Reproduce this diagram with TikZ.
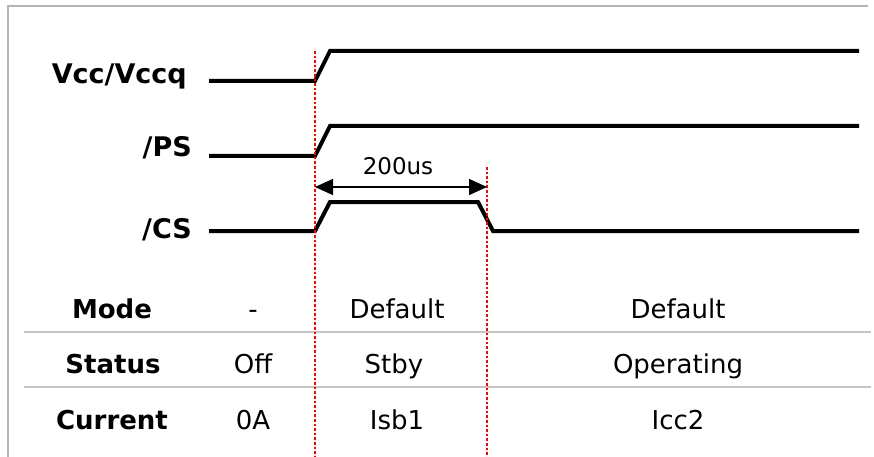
\documentclass[tikz,border=0pt]{standalone}
\usepackage{fontspec}
\setmainfont{DejaVu Sans}
\usetikzlibrary{arrows.meta}
\definecolor{framegrey}{HTML}{B4B4B4}
\definecolor{rulegrey}{HTML}{C4C4C4}
\definecolor{markred}{HTML}{FF0000}
\tikzset{
  sig/.style={line width=4pt, line join=miter, black},
  marker/.style={markred, line width=2.8pt, dash pattern=on 2.6pt off 2pt},
  rowrule/.style={rulegrey, line width=2pt},
  framerule/.style={framegrey, line width=2.4pt},
  siglabel/.style={anchor=base east, inner sep=0pt, font=\fontsize{27}{31}\selectfont\bfseries},
  headcell/.style={anchor=base, inner sep=0pt, font=\fontsize{26}{30}\selectfont\bfseries},
  cell/.style={anchor=base, inner sep=0pt, font=\fontsize{26}{30}\selectfont},
  dimline/.style={line width=1.5pt, {Triangle[length=18pt,width=16pt]}-{Triangle[length=18pt,width=16pt]}},
}
\begin{document}
\begin{tikzpicture}[x=1pt,y=-1pt]
\useasboundingbox (0,0) rectangle (874,457);
% frame
\draw[framerule] (8,457) -- (8,6) -- (868,6);
% table rules
\draw[rowrule] (24,332) -- (871,332);
\draw[rowrule] (24,387) -- (871,387);
% signal labels
\node[siglabel] (lvcc) at (187,84) {Vcc/Vccq};
\node[siglabel] (lps) at (192,157) {/PS};
\node[siglabel] (lcs) at (192,238) {/CS};
% waveforms
\coordinate (vs) at (209,81);
\coordinate (ps) at (209,156);
\coordinate (cs) at (209,231);
\draw[sig] (vs) -- (315,81) -- (330,51) -- (859,51);
\draw[sig] (ps) -- (315,156) -- (330,126) -- (859,126);
\draw[sig] (cs) -- (315,231) -- (330,202) -- (478,202) -- (493,231) -- (859,231);
% markers
\coordinate (m1t) at (315,51);
\coordinate (m1b) at (315,457);
\coordinate (m2t) at (487,167);
\coordinate (m2b) at (487,457);
\draw[marker] (m1t) -- (m1b);
\draw[marker] (m2t) -- (m2b);
% 200us dimension
\coordinate (d1) at (315,187);
\coordinate (d2) at (487,187);
\draw[dimline] (d1) -- (d2);
\node[anchor=base, inner sep=0pt, font=\fontsize{23}{27}\selectfont] (dlab) at (398,175) {200us};
% table
\node[headcell] (hmode) at (112,318) {Mode};
\node[headcell] (hstat) at (113,373) {Status};
\node[headcell] (hcur) at (112,429) {Current};
\node[cell] (c21) at (253,318) {-};
\node[cell] (c22) at (253,373) {Off};
\node[cell] (c23) at (253,429) {0A};
\node[cell] (c31) at (397,318) {Default};
\node[cell] (c32) at (394,373) {Stby};
\node[cell] (c33) at (397,429) {Isb1};
\node[cell] (c41) at (678,318) {Default};
\node[cell] (c42) at (678,373) {Operating};
\node[cell] (c43) at (678,429) {Icc2};
\end{tikzpicture}
\end{document}
